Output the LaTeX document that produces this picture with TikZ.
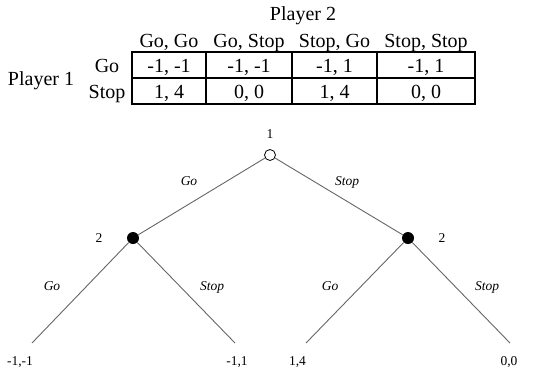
\documentclass[tikz,border=0pt]{standalone}
\usepackage{fontspec}
\setmainfont{Liberation Serif}
\usetikzlibrary{positioning}

\begin{document}
\begin{tikzpicture}[
  x=1pt, y=-1pt,
  big/.style={font=\fontsize{20}{22}\selectfont, inner sep=0pt, anchor=base},
  small/.style={font=\fontsize{13.5}{15}\selectfont, inner sep=0pt, anchor=base},
  move/.style={font=\fontsize{13.5}{15}\selectfont\itshape, inner sep=0pt, anchor=base},
  opennode/.style={circle, draw, fill=white, line width=0.8pt, minimum size=11pt, inner sep=0pt},
  dotnode/.style={circle, fill, minimum size=12pt, inner sep=0pt},
  branch/.style={black!60, line width=0.9pt}
]
\useasboundingbox (0,0) rectangle (535,373);

% Normal form
\node[big] (p2) at (303,20) {Player 2};
\node[big] (p1) at (41,85) {Player 1};
\node[big] (rgo) at (107,72) {Go};
\node[big] (rstop) at (107,98) {Stop};

\draw[line width=1.5pt] (132,52) rectangle (475,104);
\draw[line width=1.5pt] (132,78) -- (475,78);
\foreach \x in {206,292,377}
  \draw[line width=1.5pt] (\x,52) -- (\x,104);

\foreach \x/\h/\a/\b [count=\i] in {169/{Go, Go}/{-1, -1}/{1, 4},
    249/{Go, Stop}/{-1, -1}/{0, 0},
    334.5/{Stop, Go}/{-1, 1}/{1, 4},
    426/{Stop, Stop}/{-1, 1}/{0, 0}} {
  \node[big] (head\i) at (\x,47) {\h};
  \node[big] (go\i) at (\x,72) {\a};
  \node[big] (stop\i) at (\x,98) {\b};
}

% Extensive form
\node[opennode] (root) at (270,155) {};
\node[dotnode] (left) at (133,238) {};
\node[dotnode] (right) at (408,238) {};
\node[small] (lroot) at (270,138) {1};
\node[small] (lleft) at (99,242) {2};
\node[small] (lright) at (442,242) {2};

\coordinate (gg) at (32,343);
\coordinate (gs) at (235,343);
\coordinate (sg) at (306,343);
\coordinate (ss) at (510,343);

\node[small] (pgg) at (20,365) {-1,-1};
\node[small] (pgs) at (237,365) {-1,1};
\node[small] (psg) at (297.5,365) {1,4};
\node[small] (pss) at (509,365) {0,0};

\draw[branch] (root) -- (left);
\draw[branch] (root) -- (right);
\draw[branch] (left) -- (gg);
\draw[branch] (left) -- (gs);
\draw[branch] (right) -- (sg);
\draw[branch] (right) -- (ss);

\node[move] (mgo) at (189,185) {Go};
\node[move] (mstop) at (347,185) {Stop};
\node[move] (mlgo) at (52,290) {Go};
\node[move] (mlstop) at (212,290) {Stop};
\node[move] (mrgo) at (330,290) {Go};
\node[move] (mrstop) at (487,290) {Stop};

\end{tikzpicture}
\end{document}
